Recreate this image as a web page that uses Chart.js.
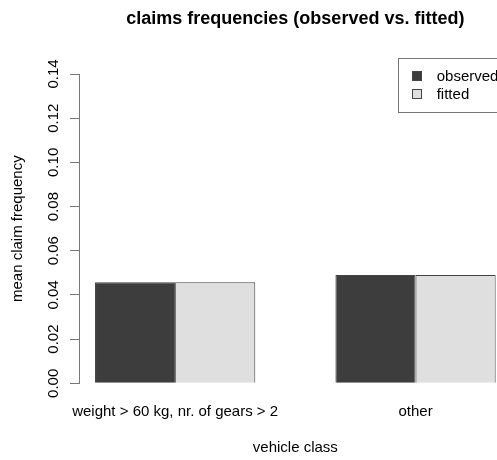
<!DOCTYPE html>
<html>
<head>
<meta charset="utf-8">
<script src="https://cdn.jsdelivr.net/npm/chart.js@4/dist/chart.umd.min.js"></script>
<style>
  html, body { margin: 0; padding: 0; background: #fff; }
  #wrap { width: 497px; height: 460px; overflow: hidden; position: relative; }
  canvas { display: block; }
</style>
</head>
<body>
<div id="wrap"><canvas id="c" width="530" height="460"></canvas></div>
<script>
// vehicle classes and mean claim frequencies
const categories = ['weight > 60 kg, nr. of gears > 2', 'other'];
const observed = [0.0457, 0.0490];
const fitted = [0.0457, 0.0490];
const yTicks = [0.00, 0.02, 0.04, 0.06, 0.08, 0.10, 0.12, 0.14];
const seriesNames = ['observed', 'fitted'];
const seriesColors = ['#3d3d3d', '#dfdfdf'];
const seriesValues = [observed, fitted];

const FONT = "'Liberation Sans', Arial, Helvetica, sans-serif";

// barplot-style layout: unit-width bars, side by side, one unit of space between groups
const groupCenter = i => 2 + 3 * i;
const span = 3 * categories.length - 1;
const xMin = 1 - 0.04 * span;
const xMax = 3 * categories.length + 0.04 * span;

// boxed legend drawn in the top-right corner of the plot region
const legendBox = {
  id: 'legendBox',
  afterDraw(chart) {
    const { ctx, chartArea } = chart;
    ctx.save();
    ctx.font = `15px ${FONT}`;
    const textW = Math.max(...seriesNames.map(n => ctx.measureText(n).width));
    const right = chartArea.right;
    const left = Math.round(right - (38.7 + textW + 13.3));
    const top = Math.round(chartArea.top - 16);
    const rowH = 18;
    ctx.strokeStyle = '#777';
    ctx.lineWidth = 1;
    ctx.strokeRect(left + 0.5, top + 0.5, right - left, rowH * 3);
    seriesNames.forEach((name, k) => {
      const cy = top + rowH * (k + 1);
      ctx.fillStyle = seriesColors[k];
      ctx.fillRect(left + 14, cy - 5, 10, 10);
      ctx.strokeStyle = '#444';
      ctx.strokeRect(left + 14.5, cy - 4.5, 9, 9);
      ctx.fillStyle = '#000';
      ctx.textBaseline = 'middle';
      ctx.textAlign = 'left';
      ctx.fillText(name, left + 38.7, cy + 1);
    });
    ctx.restore();
  }
};

new Chart(document.getElementById('c'), {
  type: 'bar',
  data: {
    datasets: seriesNames.map((name, k) => ({
      label: name,
      data: categories.map((c, i) => ({ x: groupCenter(i), y: seriesValues[k][i] })),
      backgroundColor: seriesColors[k],
      borderColor: '#444',
      borderWidth: 1,
      categoryPercentage: 2 / 3,
      barPercentage: 1
    }))
  },
  options: {
    responsive: false,
    animation: false,
    devicePixelRatio: 1,
    layout: { padding: { left: 0, right: 18.3, top: 0, bottom: 0 } },
    plugins: {
      legend: { display: false },
      tooltip: { enabled: false },
      title: {
        display: true,
        fullSize: false,
        text: 'claims frequencies (observed vs. fitted)',
        color: '#000',
        font: { family: FONT, size: 18, weight: 'bold' },
        padding: { top: 8, bottom: 44.4 }
      }
    },
    scales: {
      x: {
        type: 'linear',
        min: xMin,
        max: xMax,
        offset: false,
        grid: { display: false, drawTicks: false },
        border: { display: false },
        afterBuildTicks: s => { s.ticks = categories.map((c, i) => ({ value: groupCenter(i) })); },
        afterFit: s => { s.height = 76.7; },
        ticks: {
          autoSkip: false,
          minRotation: 0,
          maxRotation: 0,
          padding: 20,
          color: '#000',
          font: { family: FONT, size: 15 },
          callback: (v, i) => categories[i]
        },
        title: {
          display: true,
          text: 'vehicle class',
          color: '#000',
          font: { family: FONT, size: 15 },
          padding: { top: 0, bottom: 3 }
        }
      },
      y: {
        min: 0,
        max: 0.14,
        afterBuildTicks: s => { s.ticks = yTicks.map(v => ({ value: v })); },
        afterFit: s => { s.width = 79; },
        grid: { display: true, drawOnChartArea: false, drawTicks: true, tickLength: 9, color: '#777', lineWidth: 1 },
        border: { display: true, color: '#777', width: 1 },
        ticks: {
          minRotation: 90,
          maxRotation: 90,
          crossAlign: 'center',
          padding: 2,
          color: '#000',
          font: { family: FONT, size: 15 },
          callback: v => v.toFixed(2)
        },
        title: {
          display: true,
          text: 'mean claim frequency',
          color: '#000',
          font: { family: FONT, size: 15 },
          padding: { top: 9, bottom: 0 }
        }
      }
    }
  },
  plugins: [legendBox]
});
</script>
</body>
</html>
